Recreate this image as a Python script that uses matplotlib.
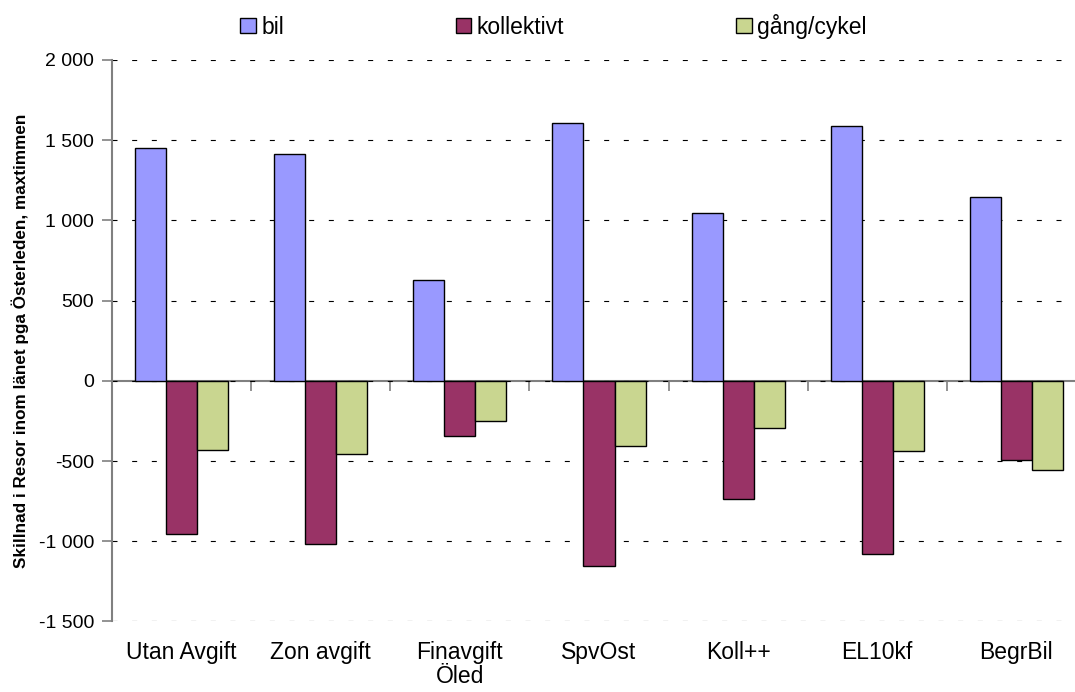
import numpy as np
import matplotlib.pyplot as plt
from matplotlib.ticker import FuncFormatter

plt.rcParams['font.family'] = ['Liberation Sans', 'DejaVu Sans']

categories = ['Utan Avgift', 'Zon avgift', 'Finavgift\nÖled', 'SpvOst', 'Koll++', 'EL10kf', 'BegrBil']
bil = [1452, 1412, 627, 1606, 1046, 1590, 1144]
kollektivt = [-953, -1014, -341, -1157, -735, -1080, -496]
gang_cykel = [-434, -457, -249, -405, -295, -438, -553]

series = [('bil', bil, '#9999FF'),
          ('kollektivt', kollektivt, '#993366'),
          ('gång/cykel', gang_cykel, '#C9D690')]

fig = plt.figure(figsize=(10.75, 6.92), dpi=100)
# plot area runs a little past the right edge of the picture, like the original
ax = fig.add_axes([0.1042, 0.1019, 0.906, 0.8114])

x = np.arange(len(categories))
w = 0.223
handles = []
for i, (name, vals, col) in enumerate(series):
    b = ax.bar(x + (i - 1) * w, vals, w, color=col, edgecolor='black',
               linewidth=1.0, label=name, zorder=3)
    handles.append(b)

ymin, ymax = -1500, 2000
ax.set_ylim(ymin, ymax)
ax.set_xlim(-0.5, len(categories) - 0.5)
ax.set_yticks(range(-1500, 2001, 500))
ax.yaxis.set_major_formatter(FuncFormatter(lambda v, p: f'{v:,.0f}'.replace(',', ' ')))
ax.tick_params(axis='y', direction='out', length=7, width=1.2, color='#808080',
               labelsize=14, pad=6)

ax.set_xticks(x)
ax.set_xticklabels(categories, fontsize=16.5, linespacing=1.05)
ax.tick_params(axis='x', length=0, pad=14)

for s in ['top', 'right', 'bottom']:
    ax.spines[s].set_visible(False)
ax.spines['left'].set_color('#808080')
ax.spines['left'].set_linewidth(1.5)

ax.set_axisbelow(True)
ax.yaxis.grid(True, linestyle=(0, (4.5, 13.2)), color='black', linewidth=0.8)

# zero line with category separator ticks
sec = ax.secondary_xaxis((0 - ymin) / (ymax - ymin))
sec.set_xticks(np.arange(-0.5, len(categories), 1))
sec.tick_params(direction='out', length=7, width=1.2, color='#808080', labelbottom=False,
                labeltop=False)
for s in sec.spines.values():
    s.set_color('#808080')
    s.set_linewidth(1.5)

ax.set_ylabel('Skillnad i Resor inom länet pga Österleden, maxtimmen',
              fontsize=12.3, fontweight='bold')
ax.yaxis.set_label_coords(-0.0856, 0.5)

fig.legend(handles=handles, loc='center', bbox_to_anchor=(0.5148, 0.9624), ncol=3,
           frameon=False, fontsize=16.5, columnspacing=7.5, handlelength=0.68,
           handleheight=0.68, handletextpad=0.24, borderpad=0.2)

fig.savefig('out.png', dpi=100)
